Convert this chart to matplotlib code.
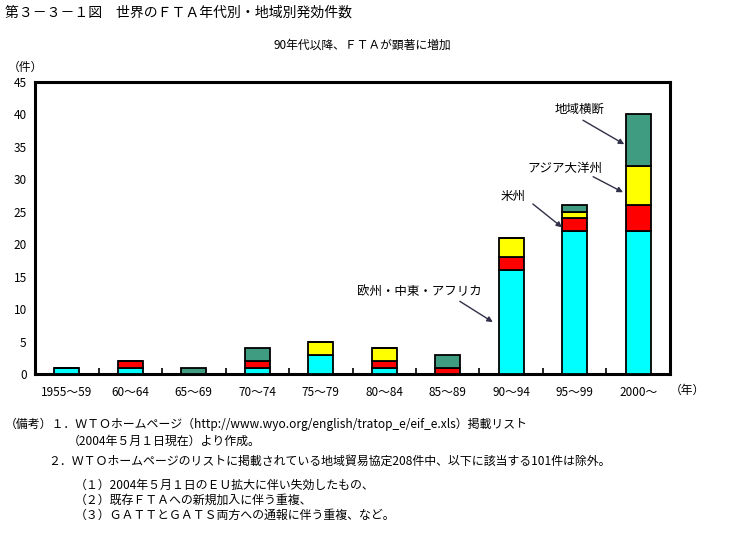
import matplotlib
matplotlib.use('Agg')
import matplotlib.pyplot as plt
import numpy as np

plt.rcParams['font.family'] = ['Noto Sans CJK JP', 'DejaVu Sans']

# データ（地域別・年代別の発効件数）
periods = ['1955～59', '60～64', '65～69', '70～74', '75～79',
           '80～84', '85～89', '90～94', '95～99', '2000～']
europe = [1, 1, 0, 1, 3, 1, 0, 16, 22, 22]    # 欧州・中東・アフリカ
america = [0, 1, 0, 1, 0, 1, 1, 2, 2, 4]      # 米州
asia = [0, 0, 0, 0, 2, 2, 0, 3, 1, 6]         # アジア大洋州
cross = [0, 0, 1, 2, 0, 0, 2, 0, 1, 8]        # 地域横断
yticks = [0, 5, 10, 15, 20, 25, 30, 35, 40, 45]

fig = plt.figure(figsize=(7.5, 5.5), dpi=100)
ax = fig.add_axes([0.0467, 0.32, 0.8466, 0.531])

x = np.arange(len(periods))
w = 0.4
bottom = np.zeros(len(periods))
for vals, col in [(europe, '#00FFFF'), (america, '#FF0000'),
                  (asia, '#FFFF00'), (cross, '#409C80')]:
    v = np.array(vals)
    ax.bar(x, v, w, bottom=bottom, color=col, edgecolor='black', linewidth=1.3, zorder=3)
    bottom += v

ax.set_xlim(-0.5, len(periods) - 0.5)
ax.set_ylim(0, 45)
ax.set_yticks(yticks)
ax.set_yticklabels([str(t) for t in yticks], fontsize=8.5)
ax.tick_params(axis='y', length=0, pad=6)
ax.set_xticks(x)
ax.set_xticklabels(periods, fontsize=8.5)
ax.tick_params(axis='x', length=0, pad=9)
ax.set_xticks(x[:-1] + 0.5, minor=True)
ax.tick_params(axis='x', which='minor', direction='in', length=4, width=1.2)
for s in ax.spines.values():
    s.set_linewidth(2.2)

arrow = dict(arrowstyle='-|>', color='#303048', lw=1.0, mutation_scale=8, shrinkA=0, shrinkB=0)
ax.annotate('', xy=(8.78, 35.4), xytext=(8.13, 39.1), arrowprops=arrow)
ax.text(8.08, 40.7, '地域横断', fontsize=9, ha='center', va='center')
ax.annotate('', xy=(8.76, 28.0), xytext=(8.29, 30.4), arrowprops=arrow)
ax.text(7.85, 31.7, 'アジア大洋州', fontsize=9, ha='center', va='center')
ax.annotate('', xy=(7.80, 22.6), xytext=(7.34, 26.2), arrowprops=arrow)
ax.text(7.03, 27.3, '米州', fontsize=9, ha='center', va='center')
ax.annotate('', xy=(6.71, 8.0), xytext=(6.19, 11.2), arrowprops=arrow)
ax.text(5.56, 12.8, '欧州・中東・アフリカ', fontsize=9, ha='center', va='center')

fig.text(5 / 750, 1 - 13 / 550, '第３－３－１図　世界のＦＴＡ年代別・地域別発効件数', fontsize=10, va='center')
fig.text(362 / 750, 1 - 45 / 550, '90年代以降、ＦＴＡが顕著に増加', fontsize=8.5, ha='center', va='center')
fig.text(8 / 750, 1 - 67 / 550, '（件）', fontsize=8.5, va='center')
fig.text(670 / 750, 1 - 390 / 550, '（年）', fontsize=8.5, va='center')

notes = [
    (5, 424, '（備考）１．ＷＴＯホームページ（http://www.wyo.org/english/tratop_e/eif_e.xls）掲載リスト'),
    (68, 441, '（2004年５月１日現在）より作成。'),
    (48, 461, '２．ＷＴＯホームページのリストに掲載されている地域貿易協定208件中、以下に該当する101件は除外。'),
    (75, 485, '（１）2004年５月１日のＥＵ拡大に伴い失効したもの、'),
    (75, 500, '（２）既存ＦＴＡへの新規加入に伴う重複、'),
    (75, 515, '（３）ＧＡＴＴとＧＡＴＳ両方への通報に伴う重複、など。'),
]
for px, py, t in notes:
    fig.text(px / 750, 1 - py / 550, t, fontsize=8.6, va='center')

fig.savefig('out.png', dpi=100)
